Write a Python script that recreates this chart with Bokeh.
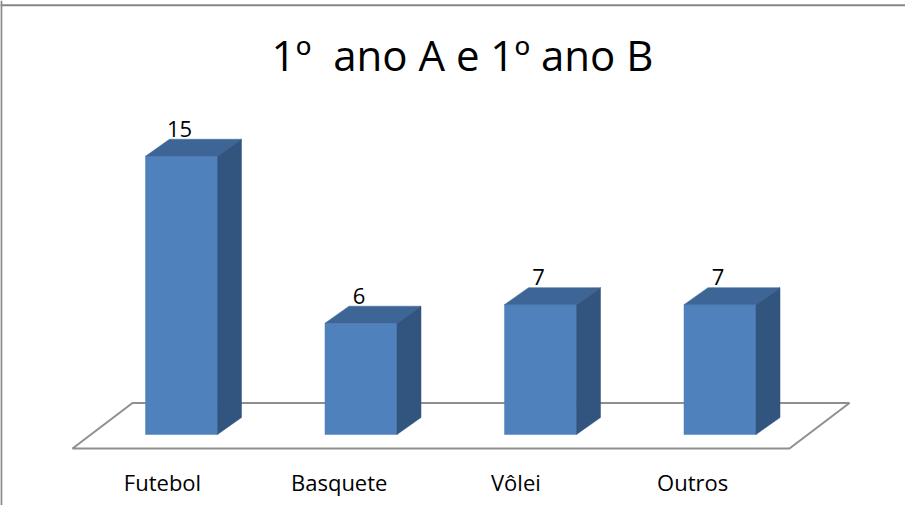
from bokeh.plotting import figure
from bokeh.models import Range1d, Span, Label, ColumnDataSource
from bokeh.core.properties import value
from bokeh.embed import file_html
from bokeh.resources import INLINE

# ---- data ----
categories = ["Futebol", "Basquete", "Vôlei", "Outros"]
values = [15, 6, 7, 7]
title_text = "1º\u00a0 ano A e 1º ano B"

# ---- layout constants ----
W, H = 905, 505
X0, X1 = -1.00836, 4.03343      # x data range (category index units)
Y0, Y1 = -3.828, 23.396         # y data range (value units)
PX_X = W / (X1 - X0)            # pixels per x unit
PX_Y = H / (Y1 - Y0)            # pixels per y unit
HALF = 0.2006                   # half bar width
DX, DY = 0.1337, 0.9164         # 3D depth offset of bars
FLOOR_FRONT_Y, FLOOR_BACK_Y = -0.7547, 1.698
FLOOR_FRONT_L, FLOOR_BACK_L = -0.6072, -0.273
FLOOR_SPAN = 3.9944
LBL_X0, LBL_STEP, LBL_Y = -0.1058, 0.9844, -2.56
VAL_LIFT = 0.57

FONT = value("Open Sans")
FRONT_C, TOP_C, SIDE_C = "#4F81BD", "#3D6697", "#32557F"
GRID_C = "#8F8F8F"

idx = list(range(len(values)))

p = figure(width=W, height=H, x_range=Range1d(X0, X1), y_range=Range1d(Y0, Y1),
           output_backend="svg", toolbar_location=None, min_border=0,
           x_axis_location=None, y_axis_location=None,
           outline_line_color=None, background_fill_color="white",
           border_fill_color="white")
p.grid.visible = False

# chart border (left and top visible)
p.add_layout(Span(location=X0 + 0.8 / PX_X, dimension="height",
                  line_color="#878787", line_width=2))
p.add_layout(Span(location=Y1 - 4.7 / PX_Y, dimension="width",
                  line_color="#878787", line_width=2))

# floor
fx = [FLOOR_FRONT_L, FLOOR_FRONT_L + FLOOR_SPAN, FLOOR_BACK_L + FLOOR_SPAN, FLOOR_BACK_L]
fy = [FLOOR_FRONT_Y, FLOOR_FRONT_Y, FLOOR_BACK_Y, FLOOR_BACK_Y]
p.patch(fx, fy, fill_color="white", line_color=GRID_C, line_width=2)

# bars: front faces
front = ColumnDataSource(dict(left=[i - HALF for i in idx], right=[i + HALF for i in idx],
                              top=values, bottom=[0] * len(values)))
p.quad(left="left", right="right", top="top", bottom="bottom", source=front,
       fill_color=FRONT_C, line_color=FRONT_C, line_width=0.5)

# top faces
top_xs = [[i - HALF, i + HALF, i + HALF + DX, i - HALF + DX] for i in idx]
top_ys = [[v, v, v + DY, v + DY] for v in values]
p.patches(top_xs, top_ys, fill_color=TOP_C, line_color=TOP_C, line_width=0.5)

# side faces
side_xs = [[i + HALF, i + HALF + DX, i + HALF + DX, i + HALF] for i in idx]
side_ys = [[0, DY, v + DY, v] for v in values]
p.patches(side_xs, side_ys, fill_color=SIDE_C, line_color=SIDE_C, line_width=0.5)

# value labels
p.text(x=idx, y=[v + DY + VAL_LIFT for v in values], text=[str(v) for v in values],
       text_font=FONT, text_font_size="22px", text_color="black",
       text_align="center", text_baseline="alphabetic", x_offset=-2)

# category labels
p.text(x=[LBL_X0 + i * LBL_STEP for i in idx], y=[LBL_Y] * len(idx), text=categories,
       text_font=FONT, text_font_size="22px", text_color="black",
       text_align="center", text_baseline="alphabetic")

# title
p.add_layout(Label(x=462, y=H - 54, x_units="screen", y_units="screen",
                   text=title_text, text_font="Open Sans", text_font_size="42px",
                   text_color="black", text_align="center", text_baseline="alphabetic"))

open("out.html", "w").write(file_html(p, INLINE))
